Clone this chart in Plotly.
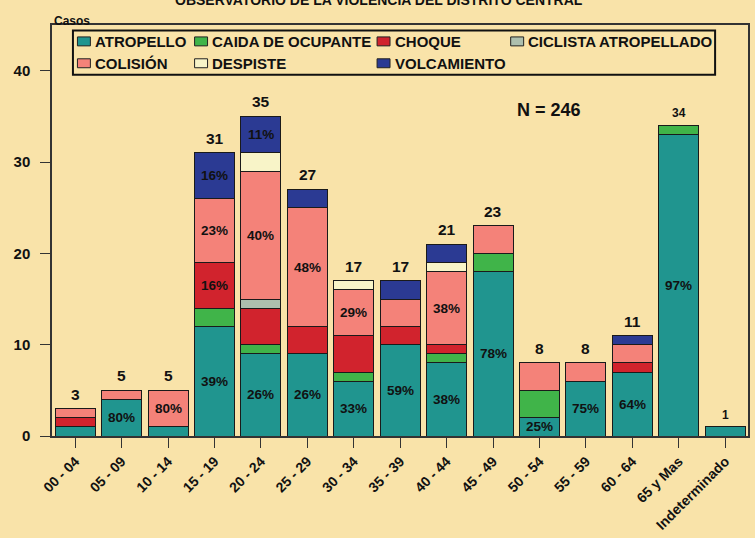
import plotly.graph_objects as go

categories = ["00 - 04", "05 - 09", "10 - 14", "15 - 19", "20 - 24", "25 - 29", "30 - 34",
              "35 - 39", "40 - 44", "45 - 49", "50 - 54", "55 - 59", "60 - 64", "65 y Mas",
              "Indeterminado"]
series_names = ["ATROPELLO", "CAIDA DE OCUPANTE", "CHOQUE", "CICLISTA ATROPELLADO",
                "COLISIÓN", "DESPISTE", "VOLCAMIENTO"]

atropello   = [1, 4, 1, 12, 9, 9, 6, 10, 8, 18, 2, 6, 7, 33, 1]
caida       = [0, 0, 0, 2, 1, 0, 1, 0, 1, 2, 3, 0, 0, 1, 0]
choque      = [1, 0, 0, 5, 4, 3, 4, 2, 1, 0, 0, 0, 1, 0, 0]
ciclista    = [0, 0, 0, 0, 1, 0, 0, 0, 0, 0, 0, 0, 0, 0, 0]
colision    = [1, 1, 4, 7, 14, 13, 5, 3, 8, 3, 3, 2, 2, 0, 0]
despiste    = [0, 0, 0, 0, 2, 0, 1, 0, 1, 0, 0, 0, 0, 0, 0]
volcamiento = [0, 0, 0, 5, 4, 2, 0, 2, 2, 0, 0, 0, 1, 0, 0]

pct_atropello   = ["", "80%", "", "39%", "26%", "26%", "33%", "59%", "38%", "78%", "25%", "75%", "64%", "97%", ""]
pct_caida       = [""] * 15
pct_choque      = ["", "", "", "16%", "", "", "", "", "", "", "", "", "", "", ""]
pct_ciclista    = [""] * 15
pct_colision    = ["", "", "80%", "23%", "40%", "48%", "29%", "", "38%", "", "", "", "", "", ""]
pct_despiste    = [""] * 15
pct_volcamiento = ["", "", "", "16%", "11%", "", "", "", "", "", "", "", "", "", ""]

n_total_label = "N = 246"
title_text = "OBSERVATORIO DE LA VIOLENCIA DEL DISTRITO CENTRAL"
y_title = "Casos"
y_ticks = [0, 10, 20, 30, 40]

values = [atropello, caida, choque, ciclista, colision, despiste, volcamiento]
pcts = [pct_atropello, pct_caida, pct_choque, pct_ciclista, pct_colision, pct_despiste, pct_volcamiento]
colors = ["#20958F", "#40B449", "#D1232D", "#ADBFAE", "#F48279", "#F8F4C8", "#2B3A93"]

BG = "#F9E3A9"
FONT = "Liberation Sans, Arial, sans-serif"
L, R, T, B = 52, 5, 24.5, 100
W, H = 755, 538
PW, PH = W - L - R, H - T - B


def px(x):
    return (x - L) / PW


def py(y):
    return (H - B - y) / PH


xs = list(range(len(categories)))
fig = go.Figure()
for name, vals, col in zip(series_names, values, colors):
    fig.add_trace(go.Bar(x=xs, y=vals, name=name, width=0.86,
                         marker=dict(color=col, line=dict(color="#1a1a1a", width=1)),
                         showlegend=False, hoverinfo="x+y+name"))

annotations = []
# percentage labels, at centre of each segment
for i in xs:
    base = 0
    for vals, labs in zip(values, pcts):
        v = vals[i]
        if labs[i]:
            annotations.append(dict(x=i, y=base + v / 2, xref="x", yref="y", text="<b>%s</b>" % labs[i],
                                    showarrow=False, font=dict(family=FONT, size=13.5, color="#111")))
        base += v
# totals
small = {"65 y Mas", "Indeterminado"}
for i, c in enumerate(categories):
    tot = sum(v[i] for v in values)
    sz = 12 if c in small else 15.5
    annotations.append(dict(x=i, y=tot, xref="x", yref="y", text="<b>%d</b>" % tot, showarrow=False,
                            yanchor="middle", yshift=12 if c in small else 14.5,
                            font=dict(family=FONT, size=sz, color="#111")))

annotations.append(dict(x=px(585), y=py(98), xref="paper", yref="paper", text="<b>%s</b>" % n_total_label,
                        showarrow=False, font=dict(family=FONT, size=18, color="#111")))
annotations.append(dict(x=px(380), y=py(9), xref="paper", yref="paper", yanchor="bottom",
                        text="<b>%s</b>" % title_text, showarrow=False,
                        font=dict(family=FONT, size=14, color="#111")))
annotations.append(dict(x=px(52), y=py(11.5), xref="paper", yref="paper", xanchor="left",
                        text="<b>%s</b>" % y_title, showarrow=False,
                        font=dict(family=FONT, size=12, color="#111")))

shapes = [dict(type="rect", xref="paper", yref="paper", x0=px(73), x1=px(717), y0=py(30), y1=py(74.5),
               line=dict(color="#111", width=2), fillcolor=BG, layer="above")]
leg_x = [77.5, 195, 378, 512, 77.5, 195, 378]
leg_y = [41, 41, 41, 41, 63, 63, 63]
for name, col, lx, ly in zip(series_names, colors, leg_x, leg_y):
    shapes.append(dict(type="rect", xref="paper", yref="paper", x0=px(lx), x1=px(lx + 13),
                       y0=py(ly - 4.5), y1=py(ly + 4.5), fillcolor=col,
                       line=dict(color="#222", width=1), layer="above"))
    annotations.append(dict(x=px(lx + 15.5), y=py(ly), xref="paper", yref="paper", xanchor="left",
                            yanchor="middle", text="<b>%s</b>" % name, showarrow=False,
                            font=dict(family=FONT, size=15, color="#111")))

fig.update_layout(
    width=W, height=H, margin=dict(l=L, r=R, t=T, b=B, pad=0),
    paper_bgcolor=BG, plot_bgcolor=BG, barmode="stack",
    font=dict(family=FONT, color="#111"),
    annotations=annotations, shapes=shapes, showlegend=False,
    xaxis=dict(range=[-0.5, 14.49], tickvals=xs, ticktext=["<b>%s</b>" % c for c in categories],
               tickangle=-45, ticks="outside", ticklen=10, tickcolor="#333", tickwidth=1,
               showline=True, linecolor="#333", linewidth=1.5, mirror=True, showgrid=False,
               zeroline=False, tickfont=dict(family=FONT, size=14, color="#111")),
    yaxis=dict(range=[0, 45], tickvals=y_ticks, ticktext=["<b>%d</b>" % t for t in y_ticks],
               ticks="outside", ticklen=10, tickcolor="#333", tickwidth=1,
               showline=True, linecolor="#333", linewidth=1.5, mirror=True, showgrid=False,
               zeroline=False, tickfont=dict(family=FONT, size=15, color="#111"),
               ticklabelstandoff=7),
)

fig.write_html("out.html", config={"displayModeBar": False},
               post_script="document.body.style.margin='0';document.body.style.background='%s';" % BG)
